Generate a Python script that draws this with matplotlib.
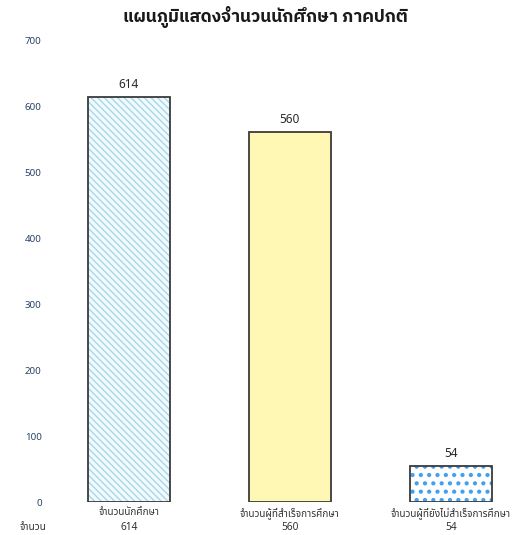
import matplotlib
import matplotlib.pyplot as plt

matplotlib.use('Agg')

# ข้อมูล
categories = ['จำนวนนักศึกษา', 'จำนวนผู้ที่สำเร็จการศึกษา', 'จำนวนผู้ที่ยังไม่สำเร็จการศึกษา']
values = [614, 560, 54]
y_ticks = [0, 100, 200, 300, 400, 500, 600, 700]
title = 'แผนภูมิแสดงจำนวนนักศึกษา ภาคปกติ'
row_label = 'จำนวน'

fonts = ['Noto Sans Thai', 'IBM Plex Sans Thai', 'Sarabun', 'DejaVu Sans']
title_fonts = ['IBM Plex Sans Thai', 'Noto Sans Thai', 'DejaVu Sans']
plt.rcParams['font.family'] = fonts

fig = plt.figure(figsize=(5.3, 5.35), dpi=100)
fig.patch.set_facecolor('white')
ax = fig.add_axes([50 / 530, 33 / 535, 470 / 530, 462 / 535])

x = list(range(len(categories)))
faces = ['#f1fafd', '#fff8b4', 'white']
hatch_colors = ['#a9d8ea', '#fff8b4', '#3f9ff0']
hatches = ['\\\\\\\\\\', None, '..']
width = 0.51

for i in x:
    b = ax.bar(i, values[i], width=width, color=faces[i], edgecolor=hatch_colors[i],
               linewidth=0, hatch=hatches[i], zorder=2)
    for p in b:
        if hasattr(p, 'set_hatch_linewidth'):
            p.set_hatch_linewidth(1.8 if i == 2 else 1.0)
    ax.bar(i, values[i], width=width, fill=False, edgecolor='#3a3a3a', linewidth=1.3, zorder=3)
    ax.text(i, values[i] + 9, str(values[i]), ha='center', va='bottom', fontsize=8.5,
            color='#2a2a2a')

ax.set_xlim(-0.49, 2.43)
ax.set_ylim(0, 700)
ax.set_yticks(y_ticks)
ax.set_yticklabels([str(v) for v in y_ticks], fontsize=7, color='#2a4268')
ax.tick_params(axis='y', length=0, pad=6)
ax.set_xticks([])
for s in ax.spines.values():
    s.set_visible(False)

# ป้ายหมวดหมู่ และแถวตารางข้อมูล
for i in x:
    ax.text(i, -8, categories[i], ha='center', va='top', fontsize=7.2, color='#333333')
    ax.text(i, -31, str(values[i]), ha='center', va='top', fontsize=7.3, color='#333333')
fig.text(33 / 530, 1 - 527 / 535, row_label, ha='center', va='center', fontsize=7.3, color='#333333')

fig.text(0.5, 1 - 17 / 535, title, ha='center', va='center', fontsize=12.5,
         fontweight='bold', family=title_fonts, color='#1a1a1a')

fig.savefig('out.png', dpi=100)
plt.close()
